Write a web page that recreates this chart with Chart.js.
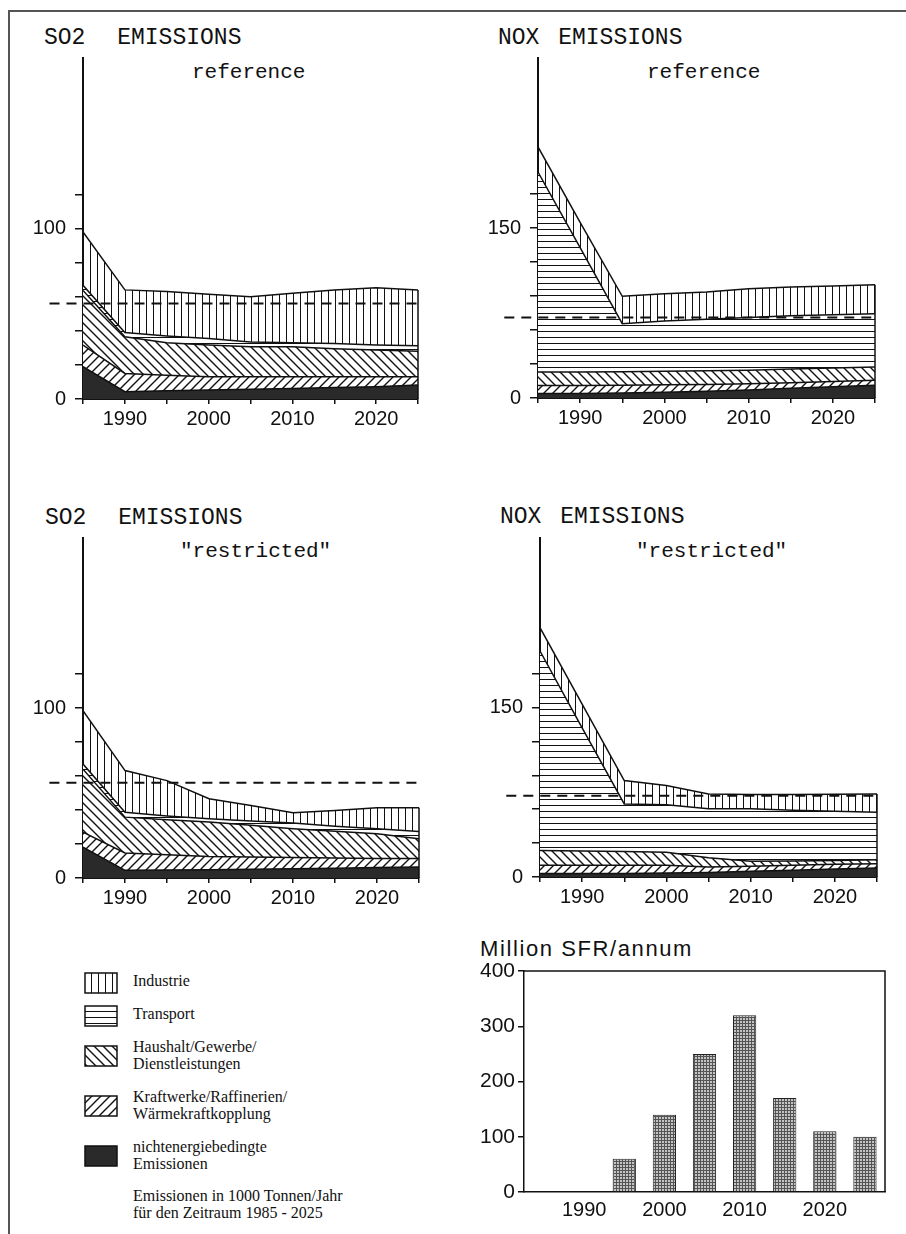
<!DOCTYPE html>
<html>
<head>
<meta charset="utf-8">
<script src="https://cdn.jsdelivr.net/npm/chart.js@4.4.1/dist/chart.umd.min.js"></script>
<style>
html, body { margin: 0; padding: 0; background: #fff; }
body { width: 906px; height: 1234px; position: relative; overflow: hidden; }
#frame { position: absolute; left: 8px; top: 10px; width: 900px; height: 1230px;
         border-top: 2px solid #555; border-left: 2px solid #555; }
canvas { position: absolute; }
.t { position: absolute; font-family: "Liberation Mono", monospace; color: #111;
     white-space: pre; line-height: 1; }
.lg { position: absolute; left: 133px; font-family: "Liberation Serif", serif; font-size: 16px;
      line-height: 17px; color: #111; white-space: pre; }
.bt { position: absolute; font-family: "Liberation Sans", sans-serif; font-size: 22px;
      letter-spacing: 1.6px; color: #111; white-space: pre; line-height: 1; }
</style>
</head>
<body>
<div id="frame"></div>

<div class="t" style="left:44px;top:27px;font-size:23px;word-spacing:18px;">SO2 EMISSIONS</div>
<div class="t" style="left:192px;top:62px;font-size:21px;">reference</div>
<div class="t" style="left:498px;top:27px;font-size:23px;word-spacing:5px;">NOX EMISSIONS</div>
<div class="t" style="left:647px;top:62px;font-size:21px;">reference</div>
<div class="t" style="left:45px;top:507px;font-size:23px;word-spacing:18px;">SO2 EMISSIONS</div>
<div class="t" style="left:180px;top:541px;font-size:21px;">"restricted"</div>
<div class="t" style="left:500px;top:506px;font-size:23px;word-spacing:5px;">NOX EMISSIONS</div>
<div class="t" style="left:636px;top:541px;font-size:21px;">"restricted"</div>

<div class="bt" style="left:480px;top:938px;">Million SFR/annum</div>

<div class="lg" style="top:972px;">Industrie</div>
<div class="lg" style="top:1005px;">Transport</div>
<div class="lg" style="top:1038px;">Haushalt/Gewerbe/
Dienstleistungen</div>
<div class="lg" style="top:1088px;">Kraftwerke/Raffinerien/
Wärmekraftkopplung</div>
<div class="lg" style="top:1138px;">nichtenergiebedingte
Emissionen</div>
<div class="lg" style="top:1187px;">Emissionen in 1000 Tonnen/Jahr
für den Zeitraum 1985 - 2025</div>

<script>
// values, in 1000 t/year, one point every 5 years
var years = [1985, 1990, 1995, 2000, 2005, 2010, 2015, 2020, 2025];

var so2RefNicht = [19, 4.3, 4.8, 5.3, 5.7, 6.2, 6.7, 7.2, 8.2];
var so2RefKraft = [12.6, 10.7, 9.2, 7.7, 7.3, 6.8, 6.3, 5.8, 4.8];
var so2RefHaus  = [32.1, 21.5, 19, 18.6, 17.6, 17.6, 16.5, 15.7, 15];
var so2RefTrans = [3, 2.5, 4, 3.9, 2.9, 2.4, 3, 2.9, 3.2];
var so2RefInd   = [31.3, 25, 26, 25.9, 26.5, 29, 31.5, 33.7, 32.8];
var so2RefLimit = 56;

var noxRefNicht = [4, 4, 4.5, 5, 6, 7, 8.5, 10, 11.2];
var noxRefKraft = [7, 7, 6.7, 6.6, 6, 5.6, 5, 4.5, 4.4];
var noxRefHaus  = [12, 12, 12, 11.9, 12, 11.9, 12, 12, 11.8];
var noxRefTrans = [176.4, 109.6, 42.4, 44.5, 45.5, 46.5, 47, 47, 47];
var noxRefInd   = [22.1, 22.4, 24.1, 24, 24, 25.5, 25.5, 25.3, 25.6];
var noxRefLimit = 71;

var so2ResNicht = [18.2, 4.5, 4.7, 4.9, 5.2, 5.5, 5.8, 6.2, 6.5];
var so2ResKraft = [8.8, 10.2, 9, 7.8, 7.1, 6.5, 6, 5.3, 4.9];
var so2ResHaus  = [37, 21.1, 20.6, 20.2, 18.7, 17, 15.7, 14.5, 11.7];
var so2ResTrans = [3, 2.9, 2.2, 1.9, 2.5, 3.3, 3, 3, 4.3];
var so2ResInd   = [31.4, 24.5, 20.8, 11.8, 9.2, 6.1, 9.2, 12.3, 13.9];
var so2ResLimit = 56;

var noxResNicht = [3, 3, 3.2, 3.5, 4, 5, 6, 7, 8];
var noxResKraft = [7.3, 7.3, 7.1, 6.8, 4.8, 4.5, 4.5, 4.2, 3.8];
var noxResHaus  = [13.2, 12.7, 12.2, 11.7, 8.2, 4.5, 3.7, 3.5, 3.5];
var noxResTrans = [176.5, 109, 42.2, 42, 43.3, 46.3, 44.8, 43.5, 42.1];
var noxResInd   = [20.6, 21, 20.6, 16.9, 13.2, 12.7, 14, 15.1, 16.1];
var noxResLimit = 72;

var so2Ticks = [0, 20, 40, 60, 80, 100, 120];
var so2TickLabels = [0, 100];
var noxTicks = [0, 30, 60, 90, 120, 150, 180];
var noxTickLabels = [0, 150];
var yearLabels = [1990, 2000, 2010, 2020];

var barYears = ['1985', '1990', '1995', '2000', '2005', '2010', '2015', '2020', '2025'];
var barCosts = [0, 0, 60, 140, 250, 320, 170, 110, 100];
var barTicks = [0, 100, 200, 300, 400];

var seriesNames = ['nichtenergiebedingte Emissionen', 'Kraftwerke/Raffinerien/Wärmekraftkopplung',
                   'Haushalt/Gewerbe/Dienstleistungen', 'Transport', 'Industrie'];

var INK = '#111';
var tickFont = { family: 'Liberation Sans', size: 20 };

// hatch tiles
function hatch(kind) {
    var s = kind === 'v' ? 7 : kind === 'h' ? 6 : 9;
    var c = document.createElement('canvas');
    c.width = s; c.height = s;
    var g = c.getContext('2d');
    g.fillStyle = '#fff';
    g.fillRect(0, 0, s, s);
    g.strokeStyle = '#111';
    g.lineWidth = kind === 'v' || kind === 'h' ? 1 : 1.4;
    g.beginPath();
    if (kind === 'v') { g.moveTo(0.5, 0); g.lineTo(0.5, s); }
    if (kind === 'h') { g.moveTo(0, 0.5); g.lineTo(s, 0.5); }
    if (kind === 'b') {
        g.moveTo(0, 0); g.lineTo(s, s);
        g.moveTo(-1, s - 1); g.lineTo(1, s + 1);
        g.moveTo(s - 1, -1); g.lineTo(s + 1, 1);
    }
    if (kind === 'f') {
        g.moveTo(0, s); g.lineTo(s, 0);
        g.moveTo(-1, 1); g.lineTo(1, -1);
        g.moveTo(s - 1, s + 1); g.lineTo(s + 1, s - 1);
    }
    g.stroke();
    return g.createPattern(c, 'repeat');
}

function dots() {
    var c = document.createElement('canvas');
    c.width = 3; c.height = 3;
    var g = c.getContext('2d');
    g.fillStyle = '#555';
    g.fillRect(0, 0, 3, 3);
    g.fillStyle = '#c4c4c4';
    g.fillRect(1, 1, 2, 2);
    return g.createPattern(c, 'repeat');
}

var fills = ['#2a2a2a', hatch('f'), hatch('b'), hatch('h'), hatch('v')];

// closes the stacked areas with a vertical edge at the last year
var rightEdge = {
    id: 'rightEdge',
    afterDatasetsDraw: function (chart) {
        var metas = chart.getSortedVisibleDatasetMetas().filter(function (m) { return m.stack === 'emissions'; });
        var top = metas[metas.length - 1].data;
        var p = top[top.length - 1];
        var g = chart.ctx;
        g.save();
        g.strokeStyle = INK;
        g.lineWidth = 1.5;
        g.beginPath();
        g.moveTo(p.x, p.y);
        g.lineTo(p.x, chart.scales.y.getPixelForValue(0));
        g.stroke();
        g.restore();
    }
};

function makeCanvas(L, T, R, B, padL, padT, padR, padB) {
    var cv = document.createElement('canvas');
    var w = R - L + padL + padR, h = B - T + padT + padB;
    cv.width = w; cv.height = h;
    cv.style.left = (L - padL) + 'px';
    cv.style.top = (T - padT) + 'px';
    cv.style.width = w + 'px';
    cv.style.height = h + 'px';
    document.body.appendChild(cv);
    return cv;
}

function areaChart(area, series, limit, yMax, yTicks, yLabels) {
    var cv = makeCanvas(area[0], area[1], area[2], area[3], 70, 20, 15, 45);
    var datasets = [{
        label: 'limit',
        data: [{ x: 1981, y: limit }, { x: 2025, y: limit }],
        stack: 'limit',
        fill: false,
        clip: false,
        borderColor: INK,
        borderWidth: 2,
        borderDash: [10, 7],
        pointRadius: 0
    }];
    series.forEach(function (arr, i) {
        datasets.push({
            label: seriesNames[i],
            data: years.map(function (yr, j) { return { x: yr, y: arr[j] }; }),
            stack: 'emissions',
            fill: i === 0 ? 'origin' : '-1',
            backgroundColor: fills[i],
            borderColor: INK,
            borderWidth: 1.5,
            pointRadius: 0,
            tension: 0
        });
    });
    return new Chart(cv, {
        type: 'line',
        data: { datasets: datasets },
        options: {
            responsive: false,
            animation: false,
            layout: { padding: { left: 0, top: 20, right: 15, bottom: 0 } },
            plugins: { legend: { display: false }, tooltip: { enabled: false } },
            scales: {
                x: {
                    type: 'linear', min: 1985, max: 2025,
                    afterBuildTicks: function (s) { s.ticks = years.map(function (v) { return { value: v }; }); },
                    afterFit: function (s) { s.height = 45; },
                    ticks: {
                        autoSkip: false, maxRotation: 0, padding: 3, color: INK, font: tickFont,
                        callback: function (v) { return yearLabels.indexOf(v) >= 0 ? String(v) : ''; }
                    },
                    grid: { drawOnChartArea: false, drawTicks: true, tickLength: 5, color: INK, lineWidth: 1.5 },
                    border: { color: INK, width: 2 }
                },
                y: {
                    type: 'linear', stacked: true, min: 0, max: yMax,
                    afterBuildTicks: function (s) { s.ticks = yTicks.map(function (v) { return { value: v }; }); },
                    afterFit: function (s) { s.width = 70; },
                    ticks: {
                        autoSkip: false, padding: 9, color: INK, font: tickFont,
                        callback: function (v) { return yLabels.indexOf(v) >= 0 ? String(v) : ''; }
                    },
                    grid: { drawOnChartArea: false, drawTicks: true, tickLength: 8, color: INK, lineWidth: 1.5 },
                    border: { color: INK, width: 2 }
                }
            }
        },
        plugins: [rightEdge]
    });
}

areaChart([83, 57, 418, 399], [so2RefNicht, so2RefKraft, so2RefHaus, so2RefTrans, so2RefInd],
          so2RefLimit, 200, so2Ticks, so2TickLabels);
areaChart([538, 57, 875, 398], [noxRefNicht, noxRefKraft, noxRefHaus, noxRefTrans, noxRefInd],
          noxRefLimit, 300, noxTicks, noxTickLabels);
areaChart([83, 537, 419, 878], [so2ResNicht, so2ResKraft, so2ResHaus, so2ResTrans, so2ResInd],
          so2ResLimit, 200, so2Ticks, so2TickLabels);
areaChart([540, 537, 877, 877], [noxResNicht, noxResKraft, noxResHaus, noxResTrans, noxResInd],
          noxResLimit, 300, noxTicks, noxTickLabels);

// cost bars
var boxFrame = {
    id: 'boxFrame',
    afterDraw: function (chart) {
        var a = chart.chartArea, g = chart.ctx;
        g.save();
        g.strokeStyle = INK;
        g.lineWidth = 1.5;
        g.beginPath();
        g.moveTo(a.left, a.top); g.lineTo(a.right, a.top); g.lineTo(a.right, a.bottom);
        g.stroke();
        g.restore();
    }
};

var barCanvas = makeCanvas(524, 971, 885, 1192, 70, 20, 15, 40);
new Chart(barCanvas, {
    type: 'bar',
    data: {
        labels: barYears,
        datasets: [{
            label: 'Million SFR/annum',
            data: barCosts,
            backgroundColor: dots(),
            borderColor: '#222',
            borderWidth: function (c) { return c.raw > 0 ? 1 : 0; },
            categoryPercentage: 0.58,
            barPercentage: 1
        }]
    },
    options: {
        responsive: false,
        animation: false,
        layout: { padding: { left: 0, top: 20, right: 15, bottom: 0 } },
        plugins: { legend: { display: false }, tooltip: { enabled: false } },
        scales: {
            x: {
                afterFit: function (s) { s.height = 40; },
                ticks: {
                    autoSkip: false, maxRotation: 0, padding: 6, color: INK, font: tickFont,
                    callback: function (v) {
                        var l = this.getLabelForValue(v);
                        return yearLabels.indexOf(Number(l)) >= 0 ? l : '';
                    }
                },
                grid: { display: false, drawTicks: false },
                border: { color: INK, width: 1.5 }
            },
            y: {
                min: 0, max: 400,
                afterBuildTicks: function (s) { s.ticks = barTicks.map(function (v) { return { value: v }; }); },
                afterFit: function (s) { s.width = 70; },
                ticks: { padding: 3, color: INK, font: { family: 'Liberation Sans', size: 21 } },
                grid: { drawOnChartArea: false, drawTicks: true, tickLength: 6, color: INK, lineWidth: 1.5 },
                border: { color: INK, width: 1.5 }
            }
        }
    },
    plugins: [boxFrame]
});

// legend swatches
var swatchTops = [973, 1006, 1046, 1096, 1146];
var swatchFills = [fills[4], fills[3], fills[2], fills[1], fills[0]];
swatchTops.forEach(function (top, i) {
    var c = document.createElement('canvas');
    c.width = 34; c.height = 22;
    c.style.left = '84px';
    c.style.top = (top - 1) + 'px';
    document.body.appendChild(c);
    var g = c.getContext('2d');
    g.fillStyle = swatchFills[i];
    g.fillRect(1, 1, 32, 20);
    g.strokeStyle = INK;
    g.lineWidth = 1.5;
    g.strokeRect(1, 1, 32, 20);
});
</script>
</body>
</html>
